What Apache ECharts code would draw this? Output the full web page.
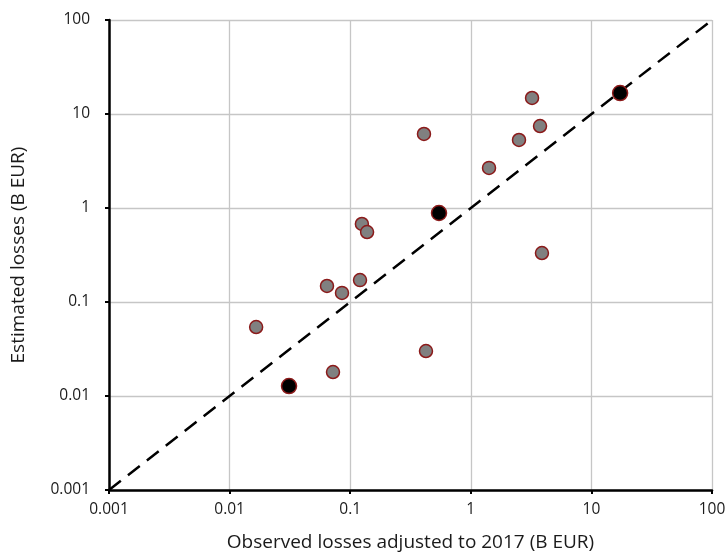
<!DOCTYPE html>
<html><head><meta charset="utf-8">
<script src="https://cdn.jsdelivr.net/npm/echarts@6/dist/echarts.min.js"></script>
<style>html,body{margin:0;padding:0;background:#fff}#c{width:728px;height:553px}</style>
</head><body><div id="c"></div>
<script>
const observedGray = [0.0166, 0.072, 0.0642, 0.0855, 0.1206, 0.125, 0.138, 0.409, 0.425, 1.416, 2.51, 3.22, 3.75, 3.89];
const estimatedGray = [0.0542, 0.018, 0.148, 0.125, 0.171, 0.676, 0.555, 6.13, 0.0301, 2.67, 5.29, 14.8, 7.45, 0.332];
const observedBlack = [0.0311, 0.545, 17.3];
const estimatedBlack = [0.01276, 0.885, 16.7];
const lineX = [0.001, 100];
const lineY = [0.001, 100];
const tickLabels = ['0.001', '0.01', '0.1', '1', '10', '100'];

function fmt(v){
  const e = Math.round(Math.log10(v));
  return tickLabels[e + 3] || '';
}
const font = 'Open Sans';
const chart = echarts.init(document.getElementById('c'));
chart.setOption({
  animation: false,
  grid: {left: 109, right: 16, top: 20, bottom: 63, containLabel: false, outerBoundsMode: 'none'},
  xAxis: {
    type: 'log', logBase: 10, min: 0.001, max: 100,
    name: 'Observed losses adjusted to 2017 (B EUR)', nameLocation: 'middle', nameGap: 43,
    nameTextStyle: {fontFamily: font, fontSize: 19, color: '#1a1a1a'},
    axisLine: {show: true, lineStyle: {color: '#000', width: 2.5}},
    axisTick: {show: true, length: 4, lineStyle: {color: '#000', width: 2}},
    axisLabel: {formatter: fmt, fontFamily: font, fontSize: 15.5, color: '#1a1a1a', margin: 12},
    splitLine: {show: true, lineStyle: {color: '#c6c6c6', width: 1.3}},
    minorTick: {show: false}
  },
  yAxis: {
    type: 'log', logBase: 10, min: 0.001, max: 100,
    name: 'Estimated losses (B EUR)', nameLocation: 'middle', nameGap: 81, nameRotate: 90,
    nameTextStyle: {fontFamily: font, fontSize: 19, color: '#1a1a1a'},
    axisLine: {show: true, lineStyle: {color: '#000', width: 2.5}},
    axisTick: {show: true, length: 4, lineStyle: {color: '#000', width: 2}},
    axisLabel: {formatter: fmt, fontFamily: font, fontSize: 15.5, color: '#1a1a1a', margin: 19},
    splitLine: {show: true, lineStyle: {color: '#c6c6c6', width: 1.3}}
  },
  series: [
    {
      type: 'line', data: lineX.map((x, i) => [x, lineY[i]]), symbol: 'none',
      lineStyle: {color: '#000', width: 2.5, type: [15, 9]}, z: 2
    },
    {
      type: 'scatter', data: observedGray.map((x, i) => [x, estimatedGray[i]]),
      symbolSize: 13, itemStyle: {color: '#808080', borderColor: '#8b1a1a', borderWidth: 1.5, opacity: 1}, z: 3
    },
    {
      type: 'scatter', data: observedBlack.map((x, i) => [x, estimatedBlack[i]]),
      symbolSize: 15, itemStyle: {color: '#000', borderColor: '#8b1a1a', borderWidth: 1.5, opacity: 1}, z: 4
    }
  ]
});
</script></body></html>
